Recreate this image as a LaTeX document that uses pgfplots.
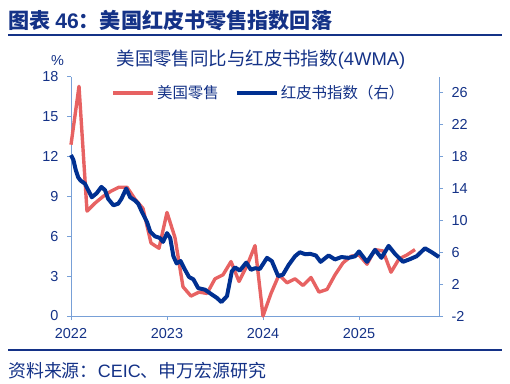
\documentclass[border=0pt]{standalone}
\usepackage{pgfplots}
\pgfplotsset{compat=1.18}
\usepackage{fontspec}
\setmainfont{Liberation Sans}
\newfontfamily\cjk{Noto Sans CJK SC}
\definecolor{navy}{RGB}{20,50,135}
\definecolor{axblue}{RGB}{120,160,215}
\definecolor{sred}{RGB}{231,98,98}
\definecolor{dblue}{RGB}{0,48,145}
\begin{document}
\begin{tikzpicture}[x=1bp,y=1bp]
\path[use as bounding box] (0,0) rectangle (510,383);
\node[anchor=west, text=navy, font=\fontsize{21.2}{21.2}\selectfont\bfseries, inner sep=0] at (8,362) {{\cjk 图表 }46{\cjk ：美国红皮书零售指数回落}};
\draw[navy, line width=2bp] (8,348) -- (502,348);
\draw[navy, line width=2bp] (8,33) -- (502,33);
\node[anchor=west, text=navy, font=\fontsize{18}{18}\selectfont, inner sep=0] at (8,12.5) {{\cjk 资料来源：}CEIC{\cjk 、申万宏源研究}};
\node[text=navy, font=\fontsize{18.5}{18.5}\selectfont, inner sep=0] at (261,323) {{\cjk 美国零售同比与红皮书指数}(4WMA)};
\node[text=navy, font=\fontsize{14.5}{14.5}\selectfont, inner sep=0] at (57.5,322) {\%};

\begin{axis}[at={(71bp,67bp)}, anchor=south west, scale only axis,
  width=368bp, height=239bp,
  xmin=0, xmax=46, ymin=0, ymax=18,
  axis x line*=bottom, axis y line*=left,
  xtick pos=lower, ytick pos=left,
  axis line style={axblue, line width=1bp},
  tick style={axblue, line width=1bp},
  tick align=outside, major tick length=4bp,
  xtick={0,12,24,36}, xticklabels={2022,2023,2024,2025},
  ytick={0,3,6,9,12,15,18}, yticklabels={0,3,6,9,12,15,18},
  ticklabel style={text=navy, font=\fontsize{14.5}{14.5}\selectfont},
  xticklabel style={yshift=-5bp},
  yticklabel style={xshift=-5bp},
  clip=false,
  legend columns=2,
  legend image code/.code={\draw[#1, line cap=butt] (0bp,0bp) -- (40bp,0bp);},
  legend style={at={(0.511,0.933)}, anchor=center, draw=none, fill=none,
    font=\fontsize{15.5}{15.5}\selectfont\cjk, text=navy, inner sep=0pt,
    /tikz/every even column/.append style={column sep=14bp}},
]
\addplot[sred, line width=3.4bp, line join=round] coordinates {
(0,12.9)(1,17.3)(2,7.9)(3,8.5)(4,9.0)(5,9.4)(6,9.7)(7,9.7)(8,8.8)(9,8.1)(10,5.5)(11,5.1)
(12,7.8)(13,5.9)(14,2.2)(15,1.5)(16,1.8)(17,1.7)(18,2.8)(19,3.1)(20,4.1)(21,2.6)(22,3.8)(23,5.3)
(24,0.0)(25,1.7)(26,3.1)(27,2.5)(28,2.8)(29,2.3)(30,2.9)(31,1.8)(32,2.0)(33,3.1)(34,4.0)(35,4.5)
(36,4.6)(37,3.9)(38,5.0)(39,4.9)(40,3.3)(41,4.3)(42,4.6)(43,5.0)};
\addlegendentry{美国零售}
\addlegendimage{dblue, line width=4bp}
\addlegendentry{红皮书指数（右）}
\end{axis}

\begin{axis}[at={(71bp,67bp)}, anchor=south west, scale only axis,
  width=368bp, height=239bp,
  xmin=0, xmax=46, ymin=-2, ymax=28,
  axis x line=none, axis y line*=right,
  ytick pos=right, yticklabel pos=right,
  axis line style={axblue, line width=1bp},
  tick style={axblue, line width=1bp},
  tick align=outside, major tick length=4bp,
  ytick={-2,2,6,10,14,18,22,26}, yticklabels={-2,2,6,10,14,18,22,26},
  ticklabel style={text=navy, font=\fontsize{14.5}{14.5}\selectfont},
  yticklabel style={xshift=5bp},
  clip=false,
]
\addplot[dblue, line width=4bp, line join=round] coordinates {
(0,18.2)(0.3,17.6)(0.6,16.3)(0.9,15.4)(1.2,15.0)(1.75,14.6)(2.05,14.0)(2.6,12.9)(3.2,13.4)(3.8,14.2)
(4.25,13.8)(4.65,12.7)(5.3,11.9)(5.9,12.1)(6.3,12.7)(6.9,14.0)(7.4,12.9)(8.0,12.5)(8.4,12.1)(8.85,11.1)
(9.5,9.8)(9.9,8.6)(10.5,8.0)(11.1,7.8)(11.5,7.3)(12.0,8.4)(12.4,7.8)(12.8,5.5)(13.2,4.6)(13.7,4.9)
(14.25,3.8)(14.75,2.9)(15.3,2.6)(15.9,1.5)(16.75,1.3)(17.6,0.7)(18.2,0.3)(18.8,-0.25)(19.5,0.5)(20.1,3.6)
(20.5,4.1)(21.1,3.7)(21.9,4.7)(22.5,3.8)(23.0,4.0)(23.6,3.9)(24.5,5.3)(25.1,4.9)(25.9,3.0)(26.5,3.2)
(27.2,4.4)(28.0,5.5)(28.6,6.0)(29.3,5.75)(29.9,5.8)(30.6,5.6)(31.2,4.8)(32.2,5.6)(33.0,5.1)(33.8,5.4)
(34.7,5.3)(35.5,5.5)(36.0,6.1)(37.0,4.8)(38.0,6.3)(38.8,5.3)(39.7,6.8)(40.5,5.8)(41.5,4.8)(42.4,5.15)
(43.2,5.5)(44.25,6.5)(45.1,6.0)(46,5.4)};
\end{axis}
\end{tikzpicture}
\end{document}
